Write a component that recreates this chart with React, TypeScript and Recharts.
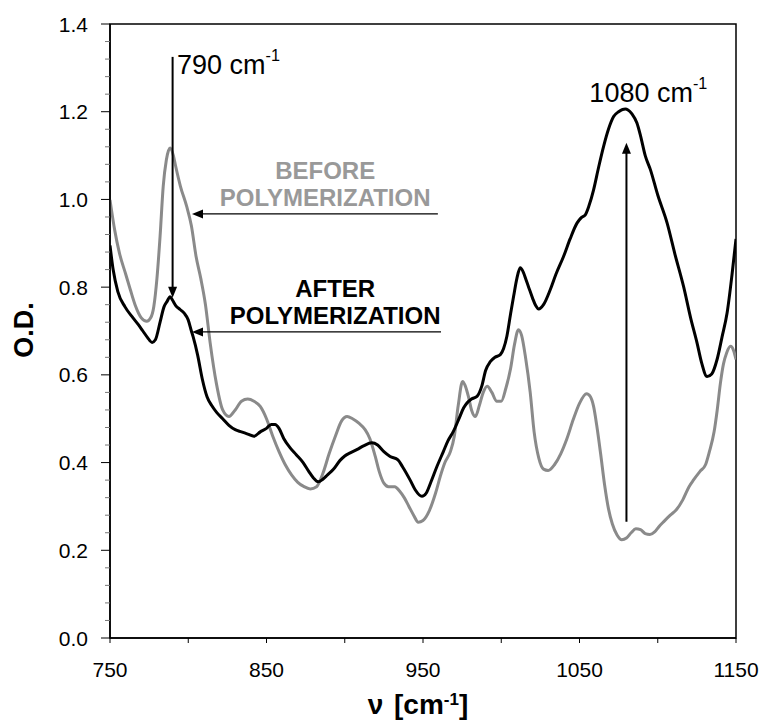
import React from "react";
import {
  LineChart,
  Line,
  XAxis,
  YAxis,
  ReferenceArea,
  ReferenceLine,
  ReferenceDot,
} from "recharts";

const FONT = "'Liberation Sans', Arial, Helvetica, sans-serif";
const GREY = "#8a8a8a";

// spectrum before polymerization (grey)
const beforeNu = [
  750, 753, 756, 760, 763, 766, 770, 773.5, 776, 778, 780, 782, 784, 786, 788.4, 790.5, 792, 795,
  799, 802, 805, 808, 811, 814, 818, 822, 826, 830, 834, 838, 842, 846, 850, 854, 858, 862, 866,
  870, 874, 878, 882, 886, 890, 894, 898, 901.5, 905, 909, 913, 916, 919.5, 922, 925, 928, 932,
  935, 938, 941, 944, 947, 950, 954, 958, 961, 964, 967.5, 970, 972.5, 975.3, 977, 979, 981,
  983.5, 986, 988.5, 991, 994, 997, 1000, 1003, 1006, 1008.5, 1011, 1013, 1015.5, 1018.5, 1021,
  1024, 1027, 1030, 1034, 1038, 1042, 1046, 1050, 1054.5, 1057, 1059, 1061, 1063.5, 1066, 1068.5,
  1071, 1074, 1077, 1080, 1083, 1086, 1089, 1092, 1095, 1098, 1101, 1104, 1108, 1112, 1116, 1120,
  1123, 1127, 1130.5, 1133, 1136, 1138, 1140, 1142, 1144, 1146.5, 1148.5, 1150,
];
const beforeOD = [
  0.999, 0.93, 0.878, 0.83, 0.794, 0.76, 0.73, 0.722, 0.73, 0.756, 0.82, 0.916, 1.03, 1.09, 1.117,
  1.1, 1.075, 1.03, 0.984, 0.94, 0.87, 0.82, 0.76, 0.673, 0.58, 0.52, 0.505, 0.52, 0.54, 0.545,
  0.54, 0.528, 0.5, 0.46, 0.425, 0.395, 0.372, 0.355, 0.345, 0.34, 0.345, 0.375, 0.42, 0.46, 0.495,
  0.505, 0.5, 0.49, 0.475, 0.455, 0.414, 0.38, 0.353, 0.345, 0.345, 0.335, 0.32, 0.3, 0.28, 0.264,
  0.268, 0.29, 0.33, 0.368, 0.4, 0.425, 0.46, 0.53, 0.585, 0.575, 0.551, 0.52, 0.505, 0.53, 0.56,
  0.574, 0.56, 0.54, 0.54, 0.57, 0.615, 0.67, 0.703, 0.69, 0.64, 0.56, 0.47, 0.41, 0.385, 0.382,
  0.395, 0.42, 0.455, 0.498, 0.535, 0.557, 0.55, 0.528, 0.485, 0.42, 0.35, 0.295, 0.26, 0.235,
  0.224, 0.228, 0.24, 0.249, 0.247, 0.238, 0.236, 0.242, 0.255, 0.266, 0.28, 0.293, 0.315, 0.345,
  0.361, 0.38, 0.395, 0.425, 0.47, 0.52, 0.58, 0.625, 0.65, 0.665, 0.655, 0.635,
];

// spectrum after polymerization (black)
const afterNu = [
  750, 752, 755, 759.6, 764.7, 768, 771, 774, 776.9, 779, 782, 784.5, 786.4, 788.4, 790, 792,
  794.8, 797.5, 799.9, 802, 803.1, 806, 809, 812, 815, 818, 822, 826, 830, 834, 838, 842, 846, 850,
  853, 855.5, 858, 861, 865, 869, 873.4, 877, 880, 883, 886, 889, 892.6, 897, 900, 903.5, 908, 912,
  917.3, 921, 925, 929, 934, 937, 941.8, 945, 949.3, 952, 955, 958.9, 963, 966, 969.4, 973, 976,
  978.1, 981, 984.5, 987.6, 990, 993, 996, 999.4, 1001.5, 1003.6, 1006, 1007.9, 1010, 1012.1, 1014,
  1016, 1017.5, 1020, 1022, 1023.9, 1027, 1031.3, 1035, 1039.8, 1044, 1048.4, 1051, 1053.7, 1056,
  1059, 1062, 1065.4, 1068.5, 1071.8, 1075, 1077.5, 1079.3, 1081, 1083.5, 1086.7, 1089, 1092,
  1095.3, 1100, 1106, 1111, 1116.6, 1121, 1125.1, 1128, 1131.5, 1134.5, 1137.9, 1141, 1144.3,
  1147.5, 1150,
];
const afterOD = [
  0.895, 0.84, 0.79, 0.755, 0.73, 0.715, 0.7, 0.685, 0.674, 0.68, 0.72, 0.755, 0.767, 0.778, 0.77,
  0.758, 0.749, 0.74, 0.726, 0.7, 0.687, 0.645, 0.59, 0.55, 0.53, 0.515, 0.5, 0.485, 0.475, 0.47,
  0.465, 0.46, 0.47, 0.478, 0.487, 0.487, 0.478, 0.455, 0.434, 0.418, 0.4, 0.38, 0.365, 0.356,
  0.362, 0.372, 0.384, 0.405, 0.415, 0.422, 0.43, 0.438, 0.445, 0.44, 0.425, 0.414, 0.406, 0.39,
  0.36, 0.338, 0.323, 0.33, 0.355, 0.391, 0.425, 0.45, 0.471, 0.5, 0.525, 0.536, 0.545, 0.551,
  0.575, 0.61, 0.63, 0.64, 0.646, 0.66, 0.688, 0.74, 0.779, 0.82, 0.844, 0.835, 0.815, 0.8, 0.775,
  0.758, 0.75, 0.76, 0.794, 0.83, 0.87, 0.91, 0.946, 0.958, 0.965, 0.985, 1.022, 1.07, 1.121, 1.16,
  1.189, 1.2, 1.205, 1.206, 1.204, 1.195, 1.174, 1.145, 1.1, 1.068, 1.01, 0.946, 0.875, 0.8, 0.73,
  0.673, 0.628, 0.596, 0.602, 0.635, 0.685, 0.741, 0.83, 0.91,
];

const xTicks = [750, 800, 850, 900, 950, 1000, 1050, 1100, 1150];
const xLabelled = [750, 850, 950, 1050, 1150];
const yTicks = [
  0, 0.04, 0.08, 0.12, 0.16, 0.2, 0.24, 0.28, 0.32, 0.36, 0.4, 0.44, 0.48, 0.52, 0.56, 0.6, 0.64,
  0.68, 0.72, 0.76, 0.8, 0.84, 0.88, 0.92, 0.96, 1.0, 1.04, 1.08, 1.12, 1.16, 1.2, 1.24, 1.28,
  1.32, 1.36, 1.4,
];
const yLabelled = [0, 0.2, 0.4, 0.6, 0.8, 1.0, 1.2, 1.4];

const beforeData = beforeNu.map((nu, i) => ({ nu, od: beforeOD[i] }));
const afterData = afterNu.map((nu, i) => ({ nu, od: afterOD[i] }));

const isMajorY = (v: number) => yLabelled.some((m) => Math.abs(m - v) < 1e-6);

function YTick({ x, y, payload }: any) {
  const major = isMajorY(payload.value);
  return (
    <g>
      <line x1={x - (major ? 9 : 5)} x2={x} y1={y} y2={y} stroke={major ? "#000" : "#777"} strokeWidth={1} />
      {major && (
        <text x={x - 22} y={y} textAnchor="end" dominantBaseline="central" fontSize={21} fontFamily={FONT} fill="#000">
          {payload.value.toFixed(1)}
        </text>
      )}
    </g>
  );
}

function XTick({ x, y, payload }: any) {
  const show = xLabelled.includes(payload.value);
  return (
    <g>
      <line x1={x} x2={x} y1={y} y2={y + 5} stroke="#000" strokeWidth={1} />
      {show && (
        <text x={x} y={y + 31} textAnchor="middle" dominantBaseline="central" fontSize={21} fontFamily={FONT} fill="#000">
          {payload.value}
        </text>
      )}
    </g>
  );
}

// line with a filled arrowhead at (x2, y2)
function arrowShape(width: number) {
  return ({ x1, y1, x2, y2 }: any) => {
    const dx = x2 - x1;
    const dy = y2 - y1;
    const len = Math.sqrt(dx * dx + dy * dy) || 1;
    const ux = dx / len;
    const uy = dy / len;
    const hl = 11;
    const hw = 4.5;
    const bx = x2 - ux * hl;
    const by = y2 - uy * hl;
    const pts = `${x2},${y2} ${bx - uy * hw},${by + ux * hw} ${bx + uy * hw},${by - ux * hw}`;
    return (
      <g>
        <line x1={x1} y1={y1} x2={bx + ux} y2={by + uy} stroke="#000" strokeWidth={width} />
        <polygon points={pts} fill="#000" />
      </g>
    );
  };
}

function textShape(lines: string[], opts: { size: number; bold?: boolean; color: string; anchor: string; sup?: string; gap?: number }) {
  return ({ cx, cy }: any) => (
    <g>
      {lines.map((t, i) => (
        <text
          key={i}
          x={cx}
          y={cy + i * (opts.gap || 0)}
          textAnchor={opts.anchor as any}
          dominantBaseline="central"
          fontSize={opts.size}
          fontWeight={opts.bold ? "bold" : "normal"}
          fontFamily={FONT}
          fill={opts.color}
        >
          {t}
          {opts.sup && (
            <tspan dy={-opts.size * 0.38} fontSize={opts.size * 0.6}>
              {opts.sup}
            </tspan>
          )}
        </text>
      ))}
    </g>
  );
}

export default function App() {
  return (
    <div style={{ position: "absolute", left: 0, top: 0, width: 766, height: 722, background: "#fff" }}>
      <LineChart width={766} height={722} margin={{ top: 24, right: 30, bottom: 44, left: 50 }}>
        <XAxis
          type="number"
          dataKey="nu"
          domain={[750, 1150]}
          ticks={xTicks}
          interval={0}
          allowDataOverflow
          tickSize={0}
          tickMargin={0}
          tickLine={false}
          tick={<XTick />}
          height={40}
          axisLine={{ stroke: "#000", strokeWidth: 1.5 }}
        />
        <YAxis
          type="number"
          domain={[0, 1.4]}
          ticks={yTicks}
          interval={0}
          allowDataOverflow
          tickSize={0}
          tickMargin={0}
          tickLine={false}
          tick={<YTick />}
          width={60}
          axisLine={{ stroke: "#000", strokeWidth: 1.5 }}
        />
        <ReferenceArea x1={750} x2={1150} y1={0} y2={1.4} fill="none" stroke="#000" strokeWidth={1.5} ifOverflow="visible" />
        <Line data={beforeData} dataKey="od" type="monotone" stroke={GREY} strokeWidth={3} dot={false} isAnimationActive={false} />
        <Line data={afterData} dataKey="od" type="monotone" stroke="#000" strokeWidth={3} dot={false} isAnimationActive={false} />

        <ReferenceLine segment={[{ x: 790, y: 1.325 }, { x: 790, y: 0.776 }]} shape={arrowShape(2)} ifOverflow="visible" />
        <ReferenceLine segment={[{ x: 1080, y: 0.265 }, { x: 1080, y: 1.129 }]} shape={arrowShape(2)} ifOverflow="visible" />
        <ReferenceLine segment={[{ x: 959.5, y: 0.967 }, { x: 802.4, y: 0.967 }]} shape={arrowShape(1.3)} ifOverflow="visible" />
        <ReferenceLine segment={[{ x: 961.5, y: 0.698 }, { x: 802.4, y: 0.698 }]} shape={arrowShape(1.3)} ifOverflow="visible" />

        <ReferenceDot x={792.8} y={1.307} r={0} ifOverflow="visible"
          shape={textShape(["790 cm"], { size: 27, color: "#000", anchor: "start", sup: "-1" })} />
        <ReferenceDot x={1056.3} y={1.243} r={0} ifOverflow="visible"
          shape={textShape(["1080 cm"], { size: 27, color: "#000", anchor: "start", sup: "-1" })} />
        <ReferenceDot x={887.5} y={1.065} r={0} ifOverflow="visible"
          shape={textShape(["BEFORE", "POLYMERIZATION"], { size: 24, bold: true, color: "#999", anchor: "middle", gap: 27 })} />
        <ReferenceDot x={893.9} y={0.796} r={0} ifOverflow="visible"
          shape={textShape(["AFTER", "POLYMERIZATION"], { size: 24, bold: true, color: "#000", anchor: "middle", gap: 27 })} />
      </LineChart>

      <div
        style={{
          position: "absolute",
          left: 24,
          top: 330,
          transform: "translate(-50%, -50%) rotate(-90deg)",
          fontFamily: FONT,
          fontWeight: "bold",
          fontSize: 27,
          whiteSpace: "nowrap",
          lineHeight: 1,
        }}
      >
        O.D.
      </div>
      <div
        style={{
          position: "absolute",
          left: 418,
          top: 705,
          transform: "translate(-50%, -50%)",
          fontFamily: FONT,
          fontWeight: "bold",
          fontSize: 28,
          whiteSpace: "nowrap",
          lineHeight: 1,
          wordSpacing: 3,
        }}
      >
        ν [cm<sup style={{ fontSize: 17, verticalAlign: "top", lineHeight: 1 }}>-1</sup>]
      </div>
    </div>
  );
}
